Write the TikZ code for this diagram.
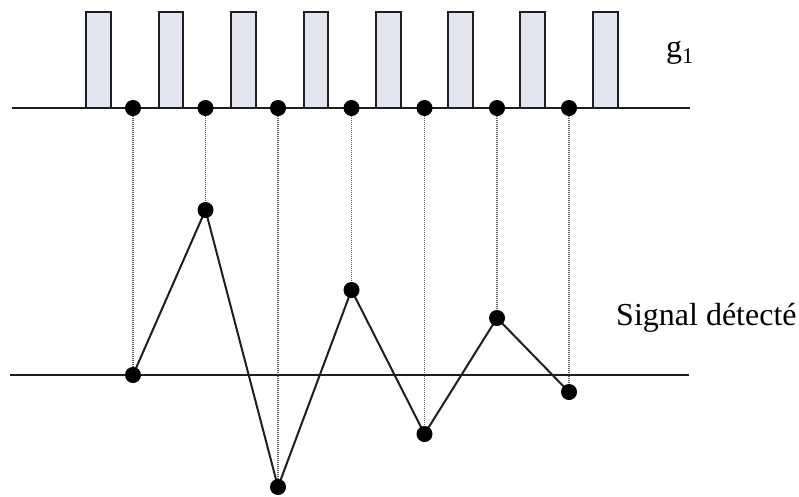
\documentclass[tikz,border=0pt]{standalone}
\usepackage{fontspec}
\setmainfont{Liberation Serif}
\usetikzlibrary{positioning}
\definecolor{PulseFill}{RGB}{226,229,240}
\definecolor{LineGray}{RGB}{30,30,30}
\definecolor{GuideGray}{RGB}{90,90,90}
\begin{document}
\begin{tikzpicture}[x=1pt,y=-1pt,
  dot/.style={circle,fill=black,inner sep=0pt,minimum size=15pt},
  pulse/.style={draw=LineGray,line width=2pt,fill=PulseFill},
  axis/.style={LineGray,line width=2pt},
  guide/.style={GuideGray,line width=1.2pt,dash pattern=on 1pt off 1pt},
  label/.style={anchor=base west,inner sep=0pt,font=\fontsize{32}{38}\selectfont}]
\useasboundingbox (0,0) rectangle (799,496);
% pulses g1
\foreach \x in {86,158.5,231,303.5,376,448,520,593}{\draw[pulse] (\x,12) rectangle ++(24.5,96);}
\coordinate (A1) at (12,108);\coordinate (A2) at (690,108);
\coordinate (B1) at (10,375);\coordinate (B2) at (689,375);
% sampling instants and detected samples
\foreach \i/\x/\y in {1/133/375,2/205.5/210,3/278/487,4/351.5/290,5/424.5/434,6/497/318,7/569/392}{
  \node[dot] (t\i) at (\x,108) {};
  \node[dot] (s\i) at (\x,\y) {};}
\foreach \i in {1,...,7}{\draw[guide] (t\i.center)--(s\i.center);}
\draw[axis] (A1)--(A2);\draw[axis] (B1)--(B2);
\draw[LineGray,line width=2pt,line join=round] (s1.center)--(s2.center)--(s3.center)--(s4.center)--(s5.center)--(s6.center)--(s7.center);
\foreach \i in {1,...,7}{\fill (t\i) circle (8pt);\fill (s\i) circle (8pt);}
\node[label] (g1) at (666,57) {g\textsubscript{1}};
\node[label] (sig) at (616,325) {Signal détecté};
\end{tikzpicture}
\end{document}
